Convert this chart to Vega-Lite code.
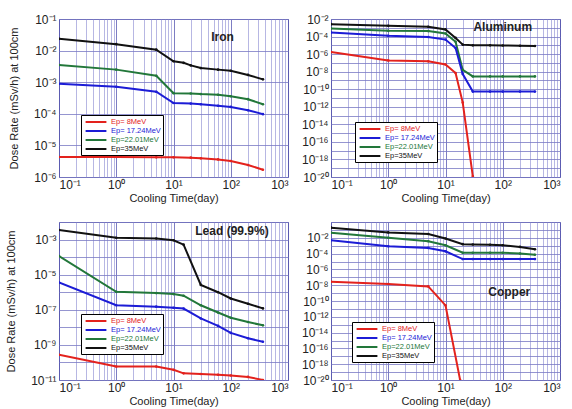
{
  "$schema": "https://vega.github.io/schema/vega-lite/v6.json",
  "padding": {"left": 5, "top": 12, "right": 5, "bottom": 2},
  "background": "white",
  "datasets": {
    "iron": [
      {"t": 0.1, "dose": 0.0236, "ep": "Ep=35MeV"}, {"t": 1, "dose": 0.016, "ep": "Ep=35MeV"}, {"t": 5, "dose": 0.0107, "ep": "Ep=35MeV"}, {"t": 10, "dose": 0.0046, "ep": "Ep=35MeV"}, {"t": 15, "dose": 0.0041, "ep": "Ep=35MeV"}, {"t": 20, "dose": 0.0034, "ep": "Ep=35MeV"}, {"t": 30, "dose": 0.0028, "ep": "Ep=35MeV"}, {"t": 60, "dose": 0.0025, "ep": "Ep=35MeV"}, {"t": 100, "dose": 0.0023, "ep": "Ep=35MeV"}, {"t": 200, "dose": 0.0017, "ep": "Ep=35MeV"}, {"t": 365, "dose": 0.00123, "ep": "Ep=35MeV"},
      {"t": 0.1, "dose": 0.0035, "ep": "Ep=22.01MeV"}, {"t": 1, "dose": 0.0025, "ep": "Ep=22.01MeV"}, {"t": 5, "dose": 0.0016, "ep": "Ep=22.01MeV"}, {"t": 10, "dose": 0.00045, "ep": "Ep=22.01MeV"}, {"t": 20, "dose": 0.00044, "ep": "Ep=22.01MeV"}, {"t": 30, "dose": 0.00042, "ep": "Ep=22.01MeV"}, {"t": 60, "dose": 0.0004, "ep": "Ep=22.01MeV"}, {"t": 100, "dose": 0.00036, "ep": "Ep=22.01MeV"}, {"t": 200, "dose": 0.00029, "ep": "Ep=22.01MeV"}, {"t": 365, "dose": 0.0002, "ep": "Ep=22.01MeV"},
      {"t": 0.1, "dose": 0.00089, "ep": "Ep= 17.24MeV"}, {"t": 1, "dose": 0.00072, "ep": "Ep= 17.24MeV"}, {"t": 5, "dose": 0.0005, "ep": "Ep= 17.24MeV"}, {"t": 10, "dose": 0.00022, "ep": "Ep= 17.24MeV"}, {"t": 20, "dose": 0.00021, "ep": "Ep= 17.24MeV"}, {"t": 30, "dose": 0.0002, "ep": "Ep= 17.24MeV"}, {"t": 60, "dose": 0.00018, "ep": "Ep= 17.24MeV"}, {"t": 100, "dose": 0.000165, "ep": "Ep= 17.24MeV"}, {"t": 200, "dose": 0.00013, "ep": "Ep= 17.24MeV"}, {"t": 365, "dose": 0.0000975, "ep": "Ep= 17.24MeV"},
      {"t": 0.1, "dose": 4.3e-6, "ep": "Ep= 8MeV"}, {"t": 1, "dose": 4.3e-6, "ep": "Ep= 8MeV"}, {"t": 5, "dose": 4.2e-6, "ep": "Ep= 8MeV"}, {"t": 10, "dose": 4.2e-6, "ep": "Ep= 8MeV"}, {"t": 20, "dose": 4.1e-6, "ep": "Ep= 8MeV"}, {"t": 30, "dose": 3.9e-6, "ep": "Ep= 8MeV"}, {"t": 60, "dose": 3.6e-6, "ep": "Ep= 8MeV"}, {"t": 100, "dose": 3.2e-6, "ep": "Ep= 8MeV"}, {"t": 200, "dose": 2.4e-6, "ep": "Ep= 8MeV"}, {"t": 365, "dose": 1.7e-6, "ep": "Ep= 8MeV"}
    ],
    "aluminum": [
      {"t": 0.1, "dose": 0.0026, "ep": "Ep=35MeV"}, {"t": 1, "dose": 0.0017, "ep": "Ep=35MeV"}, {"t": 5, "dose": 0.0013, "ep": "Ep=35MeV"}, {"t": 10, "dose": 0.00065, "ep": "Ep=35MeV"}, {"t": 15, "dose": 7e-5, "ep": "Ep=35MeV"}, {"t": 20, "dose": 1.2e-5, "ep": "Ep=35MeV"}, {"t": 30, "dose": 1e-5, "ep": "Ep=35MeV"}, {"t": 60, "dose": 1e-5, "ep": "Ep=35MeV"}, {"t": 100, "dose": 9.5e-6, "ep": "Ep=35MeV"}, {"t": 200, "dose": 9e-6, "ep": "Ep=35MeV"}, {"t": 365, "dose": 8.5e-6, "ep": "Ep=35MeV"},
      {"t": 0.1, "dose": 0.00083, "ep": "Ep=22.01MeV"}, {"t": 1, "dose": 0.00045, "ep": "Ep=22.01MeV"}, {"t": 5, "dose": 0.00042, "ep": "Ep=22.01MeV"}, {"t": 10, "dose": 0.00022, "ep": "Ep=22.01MeV"}, {"t": 15, "dose": 2.5e-5, "ep": "Ep=22.01MeV"}, {"t": 20, "dose": 1.6e-8, "ep": "Ep=22.01MeV"}, {"t": 30, "dose": 2.9e-9, "ep": "Ep=22.01MeV"}, {"t": 60, "dose": 2.9e-9, "ep": "Ep=22.01MeV"}, {"t": 100, "dose": 2.9e-9, "ep": "Ep=22.01MeV"}, {"t": 200, "dose": 2.9e-9, "ep": "Ep=22.01MeV"}, {"t": 365, "dose": 2.9e-9, "ep": "Ep=22.01MeV"},
      {"t": 0.1, "dose": 0.00029, "ep": "Ep= 17.24MeV"}, {"t": 1, "dose": 0.00012, "ep": "Ep= 17.24MeV"}, {"t": 5, "dose": 9e-5, "ep": "Ep= 17.24MeV"}, {"t": 10, "dose": 4.5e-5, "ep": "Ep= 17.24MeV"}, {"t": 15, "dose": 5e-6, "ep": "Ep= 17.24MeV"}, {"t": 20, "dose": 5.4e-9, "ep": "Ep= 17.24MeV"}, {"t": 30, "dose": 5.4e-11, "ep": "Ep= 17.24MeV"}, {"t": 60, "dose": 5.4e-11, "ep": "Ep= 17.24MeV"}, {"t": 100, "dose": 5.4e-11, "ep": "Ep= 17.24MeV"}, {"t": 200, "dose": 5.4e-11, "ep": "Ep= 17.24MeV"}, {"t": 365, "dose": 5.4e-11, "ep": "Ep= 17.24MeV"},
      {"t": 0.1, "dose": 1.7e-6, "ep": "Ep= 8MeV"}, {"t": 1, "dose": 1.9e-7, "ep": "Ep= 8MeV"}, {"t": 5, "dose": 1.5e-7, "ep": "Ep= 8MeV"}, {"t": 10, "dose": 6.5e-8, "ep": "Ep= 8MeV"}, {"t": 15, "dose": 7e-9, "ep": "Ep= 8MeV"}, {"t": 20, "dose": 3e-12, "ep": "Ep= 8MeV"}, {"t": 30, "dose": 1.2e-20, "ep": "Ep= 8MeV"}
    ],
    "lead": [
      {"t": 0.1, "dose": 0.0035, "ep": "Ep=35MeV"}, {"t": 1, "dose": 0.00126, "ep": "Ep=35MeV"}, {"t": 5, "dose": 0.00115, "ep": "Ep=35MeV"}, {"t": 10, "dose": 0.00091, "ep": "Ep=35MeV"}, {"t": 15, "dose": 0.00051, "ep": "Ep=35MeV"}, {"t": 30, "dose": 2.6e-6, "ep": "Ep=35MeV"}, {"t": 60, "dose": 1e-6, "ep": "Ep=35MeV"}, {"t": 100, "dose": 4.4e-7, "ep": "Ep=35MeV"}, {"t": 200, "dose": 2.2e-7, "ep": "Ep=35MeV"}, {"t": 365, "dose": 1.2e-7, "ep": "Ep=35MeV"},
      {"t": 0.1, "dose": 0.000115, "ep": "Ep=22.01MeV"}, {"t": 1, "dose": 1.05e-6, "ep": "Ep=22.01MeV"}, {"t": 5, "dose": 8.9e-7, "ep": "Ep=22.01MeV"}, {"t": 10, "dose": 7.8e-7, "ep": "Ep=22.01MeV"}, {"t": 15, "dose": 6.3e-7, "ep": "Ep=22.01MeV"}, {"t": 30, "dose": 1.8e-7, "ep": "Ep=22.01MeV"}, {"t": 60, "dose": 7e-8, "ep": "Ep=22.01MeV"}, {"t": 100, "dose": 3.5e-8, "ep": "Ep=22.01MeV"}, {"t": 200, "dose": 2e-8, "ep": "Ep=22.01MeV"}, {"t": 365, "dose": 1.3e-8, "ep": "Ep=22.01MeV"},
      {"t": 0.1, "dose": 3.6e-6, "ep": "Ep= 17.24MeV"}, {"t": 1, "dose": 1.8e-7, "ep": "Ep= 17.24MeV"}, {"t": 5, "dose": 1.5e-7, "ep": "Ep= 17.24MeV"}, {"t": 10, "dose": 1.3e-7, "ep": "Ep= 17.24MeV"}, {"t": 15, "dose": 1.17e-7, "ep": "Ep= 17.24MeV"}, {"t": 30, "dose": 3.2e-8, "ep": "Ep= 17.24MeV"}, {"t": 60, "dose": 1.2e-8, "ep": "Ep= 17.24MeV"}, {"t": 100, "dose": 4.8e-9, "ep": "Ep= 17.24MeV"}, {"t": 200, "dose": 2.4e-9, "ep": "Ep= 17.24MeV"}, {"t": 365, "dose": 1.5e-9, "ep": "Ep= 17.24MeV"},
      {"t": 0.1, "dose": 2.75e-10, "ep": "Ep= 8MeV"}, {"t": 1, "dose": 5.8e-11, "ep": "Ep= 8MeV"}, {"t": 5, "dose": 5.8e-11, "ep": "Ep= 8MeV"}, {"t": 10, "dose": 3.8e-11, "ep": "Ep= 8MeV"}, {"t": 15, "dose": 2.4e-11, "ep": "Ep= 8MeV"}, {"t": 30, "dose": 2.2e-11, "ep": "Ep= 8MeV"}, {"t": 60, "dose": 2e-11, "ep": "Ep= 8MeV"}, {"t": 100, "dose": 1.8e-11, "ep": "Ep= 8MeV"}, {"t": 200, "dose": 1.5e-11, "ep": "Ep= 8MeV"}, {"t": 365, "dose": 1e-11, "ep": "Ep= 8MeV"}
    ],
    "copper": [
      {"t": 0.1, "dose": 0.19, "ep": "Ep=35MeV"}, {"t": 1, "dose": 0.048, "ep": "Ep=35MeV"}, {"t": 5, "dose": 0.03, "ep": "Ep=35MeV"}, {"t": 10, "dose": 0.0081, "ep": "Ep=35MeV"}, {"t": 20, "dose": 0.00155, "ep": "Ep=35MeV"}, {"t": 30, "dose": 0.0014, "ep": "Ep=35MeV"}, {"t": 60, "dose": 0.0013, "ep": "Ep=35MeV"}, {"t": 100, "dose": 0.00115, "ep": "Ep=35MeV"}, {"t": 200, "dose": 0.0007, "ep": "Ep=35MeV"}, {"t": 365, "dose": 0.00035, "ep": "Ep=35MeV"},
      {"t": 0.1, "dose": 0.044, "ep": "Ep=22.01MeV"}, {"t": 1, "dose": 0.01, "ep": "Ep=22.01MeV"}, {"t": 5, "dose": 0.0037, "ep": "Ep=22.01MeV"}, {"t": 10, "dose": 0.00115, "ep": "Ep=22.01MeV"}, {"t": 20, "dose": 0.00013, "ep": "Ep=22.01MeV"}, {"t": 30, "dose": 0.00013, "ep": "Ep=22.01MeV"}, {"t": 60, "dose": 0.00013, "ep": "Ep=22.01MeV"}, {"t": 100, "dose": 0.00013, "ep": "Ep=22.01MeV"}, {"t": 200, "dose": 0.0001, "ep": "Ep=22.01MeV"}, {"t": 365, "dose": 7.2e-5, "ep": "Ep=22.01MeV"},
      {"t": 0.1, "dose": 0.005, "ep": "Ep= 17.24MeV"}, {"t": 1, "dose": 0.00085, "ep": "Ep= 17.24MeV"}, {"t": 5, "dose": 0.00052, "ep": "Ep= 17.24MeV"}, {"t": 10, "dose": 0.000195, "ep": "Ep= 17.24MeV"}, {"t": 20, "dose": 2e-5, "ep": "Ep= 17.24MeV"}, {"t": 30, "dose": 2e-5, "ep": "Ep= 17.24MeV"}, {"t": 60, "dose": 2e-5, "ep": "Ep= 17.24MeV"}, {"t": 100, "dose": 2e-5, "ep": "Ep= 17.24MeV"}, {"t": 200, "dose": 2e-5, "ep": "Ep= 17.24MeV"}, {"t": 365, "dose": 2e-5, "ep": "Ep= 17.24MeV"},
      {"t": 0.1, "dose": 2.75e-8, "ep": "Ep= 8MeV"}, {"t": 1, "dose": 1.4e-8, "ep": "Ep= 8MeV"}, {"t": 5, "dose": 7e-9, "ep": "Ep= 8MeV"}, {"t": 10, "dose": 2.8e-11, "ep": "Ep= 8MeV"}, {"t": 18, "dose": 1e-20, "ep": "Ep= 8MeV"}
    ]
  },
  "columns": 2,
  "spacing": {"row": 45, "column": 43},
  "bounds": "flush",
  "resolve": {"scale": {"color": "independent", "x": "independent", "y": "independent"}, "legend": {"color": "independent"}},
  "concat": [
    {
      "width": 229, "height": 158,
      "layer": [
        {
          "data": {"name": "iron"},
          "mark": {"type": "line", "clip": true, "strokeWidth": 2, "point": {"size": 7, "filled": true}},
          "encoding": {
            "x": {"field": "t", "type": "quantitative", "scale": {"type": "log", "domain": [0.1, 1000], "nice": false},
              "axis": {"title": "Cooling Time(day)", "values": [0.1,0.2,0.3,0.4,0.5,0.6,0.7,0.8,0.9,1,2,3,4,5,6,7,8,9,10,20,30,40,50,60,70,80,90,100,200,300,400,500,600,700,800,900,1000],
                "labelExpr": "abs(log(datum.value)/LN10 - round(log(datum.value)/LN10)) < 0.01 ? ['10⁻¹','10⁰','10¹','10²','10³'][round(log(datum.value)/LN10)+1] : ''",
                "gridColor": {"condition": {"test": "abs(log(datum.value)/LN10 - round(log(datum.value)/LN10)) < 0.01", "value": "#5c5cb4"}, "value": "#a4a4dc"}}},
            "y": {"field": "dose", "type": "quantitative", "scale": {"type": "log", "domain": [1e-6, 0.1], "nice": false},
              "axis": {"title": "Dose Rate (mSv/h) at 100cm", "values": [1e-6, 1e-5, 1e-4, 1e-3, 1e-2, 1e-1],
                "labelExpr": "'10' + (round(log(datum.value)/LN10) < 0 ? '⁻' : '') + ['⁰','¹','²','³','⁴','⁵','⁶','⁷','⁸','⁹'][abs(round(log(datum.value)/LN10)) % 10]"}},
            "color": {"field": "ep", "type": "nominal", "scale": {"domain": ["Ep= 8MeV", "Ep= 17.24MeV", "Ep=22.01MeV", "Ep=35MeV"], "range": ["#e3221d", "#1c1cd6", "#22773a", "#111111"]},
              "legend": {"legendX": 22, "legendY": 96}}
          }
        },
        {
          "data": {"values": [{"t": 72, "dose": 0.027, "label": "Iron"}]},
          "mark": {"type": "text", "fontWeight": "bold", "fontSize": 12, "align": "center", "baseline": "middle", "color": "#222"},
          "encoding": {"x": {"field": "t", "type": "quantitative"}, "y": {"field": "dose", "type": "quantitative"}, "text": {"field": "label"}}
        }
      ]
    },
    {
      "width": 229, "height": 158,
      "layer": [
        {
          "data": {"name": "aluminum"},
          "mark": {"type": "line", "clip": true, "strokeWidth": 2, "point": {"size": 7, "filled": true}},
          "encoding": {
            "x": {"field": "t", "type": "quantitative", "scale": {"type": "log", "domain": [0.1, 1000], "nice": false},
              "axis": {"title": "Cooling Time(day)", "values": [0.1,0.2,0.3,0.4,0.5,0.6,0.7,0.8,0.9,1,2,3,4,5,6,7,8,9,10,20,30,40,50,60,70,80,90,100,200,300,400,500,600,700,800,900,1000],
                "labelExpr": "abs(log(datum.value)/LN10 - round(log(datum.value)/LN10)) < 0.01 ? ['10⁻¹','10⁰','10¹','10²','10³'][round(log(datum.value)/LN10)+1] : ''",
                "gridColor": {"condition": {"test": "abs(log(datum.value)/LN10 - round(log(datum.value)/LN10)) < 0.01", "value": "#5c5cb4"}, "value": "#a4a4dc"}}},
            "y": {"field": "dose", "type": "quantitative", "scale": {"type": "log", "domain": [1e-20, 1e-2], "nice": false},
              "axis": {"title": null, "values": [1e-20,1e-19,1e-18,1e-17,1e-16,1e-15,1e-14,1e-13,1e-12,1e-11,1e-10,1e-9,1e-8,1e-7,1e-6,1e-5,1e-4,1e-3,1e-2],
                "labelExpr": "round(log(datum.value)/LN10) % 2 == 0 ? '10' + (round(log(datum.value)/LN10) < 0 ? '⁻' : '') + (abs(round(log(datum.value)/LN10)) >= 10 ? ['⁰','¹','²','³','⁴','⁵','⁶','⁷','⁸','⁹'][floor(abs(round(log(datum.value)/LN10))/10)] : '') + ['⁰','¹','²','³','⁴','⁵','⁶','⁷','⁸','⁹'][abs(round(log(datum.value)/LN10)) % 10] : ''"}},
            "color": {"field": "ep", "type": "nominal", "scale": {"domain": ["Ep= 8MeV", "Ep= 17.24MeV", "Ep=22.01MeV", "Ep=35MeV"], "range": ["#e3221d", "#1c1cd6", "#22773a", "#111111"]},
              "legend": {"legendX": 24, "legendY": 103}}
          }
        },
        {
          "data": {"values": [{"t": 100, "dose": 0.0013, "label": "Aluminum"}]},
          "mark": {"type": "text", "fontWeight": "bold", "fontSize": 12, "align": "center", "baseline": "middle", "color": "#222"},
          "encoding": {"x": {"field": "t", "type": "quantitative"}, "y": {"field": "dose", "type": "quantitative"}, "text": {"field": "label"}}
        }
      ]
    },
    {
      "width": 229, "height": 158,
      "layer": [
        {
          "data": {"name": "lead"},
          "mark": {"type": "line", "clip": true, "strokeWidth": 2, "point": {"size": 7, "filled": true}},
          "encoding": {
            "x": {"field": "t", "type": "quantitative", "scale": {"type": "log", "domain": [0.1, 1000], "nice": false},
              "axis": {"title": "Cooling Time(day)", "values": [0.1,0.2,0.3,0.4,0.5,0.6,0.7,0.8,0.9,1,2,3,4,5,6,7,8,9,10,20,30,40,50,60,70,80,90,100,200,300,400,500,600,700,800,900,1000],
                "labelExpr": "abs(log(datum.value)/LN10 - round(log(datum.value)/LN10)) < 0.01 ? ['10⁻¹','10⁰','10¹','10²','10³'][round(log(datum.value)/LN10)+1] : ''",
                "gridColor": {"condition": {"test": "abs(log(datum.value)/LN10 - round(log(datum.value)/LN10)) < 0.01", "value": "#5c5cb4"}, "value": "#a4a4dc"}}},
            "y": {"field": "dose", "type": "quantitative", "scale": {"type": "log", "domain": [1e-11, 1e-2], "nice": false},
              "axis": {"title": "Dose Rate (mSv/h) at 100cm", "values": [1e-11,1e-10,1e-9,1e-8,1e-7,1e-6,1e-5,1e-4,1e-3,1e-2],
                "labelExpr": "round(log(datum.value)/LN10) % 2 != 0 ? '10' + (round(log(datum.value)/LN10) < 0 ? '⁻' : '') + (abs(round(log(datum.value)/LN10)) >= 10 ? ['⁰','¹','²','³','⁴','⁵','⁶','⁷','⁸','⁹'][floor(abs(round(log(datum.value)/LN10))/10)] : '') + ['⁰','¹','²','³','⁴','⁵','⁶','⁷','⁸','⁹'][abs(round(log(datum.value)/LN10)) % 10] : ''"}},
            "color": {"field": "ep", "type": "nominal", "scale": {"domain": ["Ep= 8MeV", "Ep= 17.24MeV", "Ep=22.01MeV", "Ep=35MeV"], "range": ["#e3221d", "#1c1cd6", "#22773a", "#111111"]},
              "legend": {"legendX": 22, "legendY": 92}}
          }
        },
        {
          "data": {"values": [{"t": 105, "dose": 0.0029, "label": "Lead (99.9%)"}]},
          "mark": {"type": "text", "fontWeight": "bold", "fontSize": 12, "align": "center", "baseline": "middle", "color": "#222"},
          "encoding": {"x": {"field": "t", "type": "quantitative"}, "y": {"field": "dose", "type": "quantitative"}, "text": {"field": "label"}}
        }
      ]
    },
    {
      "width": 229, "height": 158,
      "layer": [
        {
          "data": {"name": "copper"},
          "mark": {"type": "line", "clip": true, "strokeWidth": 2, "point": {"size": 7, "filled": true}},
          "encoding": {
            "x": {"field": "t", "type": "quantitative", "scale": {"type": "log", "domain": [0.1, 1000], "nice": false},
              "axis": {"title": "Cooling Time(day)", "values": [0.1,0.2,0.3,0.4,0.5,0.6,0.7,0.8,0.9,1,2,3,4,5,6,7,8,9,10,20,30,40,50,60,70,80,90,100,200,300,400,500,600,700,800,900,1000],
                "labelExpr": "abs(log(datum.value)/LN10 - round(log(datum.value)/LN10)) < 0.01 ? ['10⁻¹','10⁰','10¹','10²','10³'][round(log(datum.value)/LN10)+1] : ''",
                "gridColor": {"condition": {"test": "abs(log(datum.value)/LN10 - round(log(datum.value)/LN10)) < 0.01", "value": "#5c5cb4"}, "value": "#a4a4dc"}}},
            "y": {"field": "dose", "type": "quantitative", "scale": {"type": "log", "domain": [1e-20, 1], "nice": false},
              "axis": {"title": null, "values": [1e-20,1e-19,1e-18,1e-17,1e-16,1e-15,1e-14,1e-13,1e-12,1e-11,1e-10,1e-9,1e-8,1e-7,1e-6,1e-5,1e-4,1e-3,1e-2,1e-1,1],
                "labelExpr": "(round(log(datum.value)/LN10) % 2 == 0 && datum.value < 0.5) ? '10' + (round(log(datum.value)/LN10) < 0 ? '⁻' : '') + (abs(round(log(datum.value)/LN10)) >= 10 ? ['⁰','¹','²','³','⁴','⁵','⁶','⁷','⁸','⁹'][floor(abs(round(log(datum.value)/LN10))/10)] : '') + ['⁰','¹','²','³','⁴','⁵','⁶','⁷','⁸','⁹'][abs(round(log(datum.value)/LN10)) % 10] : ''"}},
            "color": {"field": "ep", "type": "nominal", "scale": {"domain": ["Ep= 8MeV", "Ep= 17.24MeV", "Ep=22.01MeV", "Ep=35MeV"], "range": ["#e3221d", "#1c1cd6", "#22773a", "#111111"]},
              "legend": {"legendX": 21, "legendY": 100}}
          }
        },
        {
          "data": {"values": [{"t": 130, "dose": 1.3e-9, "label": "Copper"}]},
          "mark": {"type": "text", "fontWeight": "bold", "fontSize": 12, "align": "center", "baseline": "middle", "color": "#222"},
          "encoding": {"x": {"field": "t", "type": "quantitative"}, "y": {"field": "dose", "type": "quantitative"}, "text": {"field": "label"}}
        }
      ]
    }
  ],
  "config": {
    "font": "Liberation Sans",
    "view": {"stroke": "#5a5aa8", "strokeWidth": 1},
    "axis": {"ticks": false, "domain": false, "labelFontSize": 12, "labelColor": "#222", "titleFontSize": 11, "titleFontWeight": "normal", "titleColor": "#222", "gridColor": "#7a7ac4", "gridWidth": 0.8, "gridOpacity": 1, "labelPadding": 3, "labelOverlap": false},
    "axisX": {"titlePadding": 2, "labelPadding": 2},
    "axisY": {"titlePadding": 14},
    "legend": {
      "orient": "none", "title": null, "fillColor": "white", "strokeColor": "#000", "padding": 2,
      "symbolType": "M-2.6,0H2.6", "symbolStrokeWidth": 2, "symbolSize": 64, "symbolOffset": 8, "labelFontSize": 7.5, "rowPadding": 0, "labelOffset": 10,
      "labelColor": {"expr": "datum.label == 'Ep= 8MeV' ? '#e3221d' : datum.label == 'Ep= 17.24MeV' ? '#1c1cd6' : datum.label == 'Ep=22.01MeV' ? '#22773a' : '#111111'"}
    }
  }
}
